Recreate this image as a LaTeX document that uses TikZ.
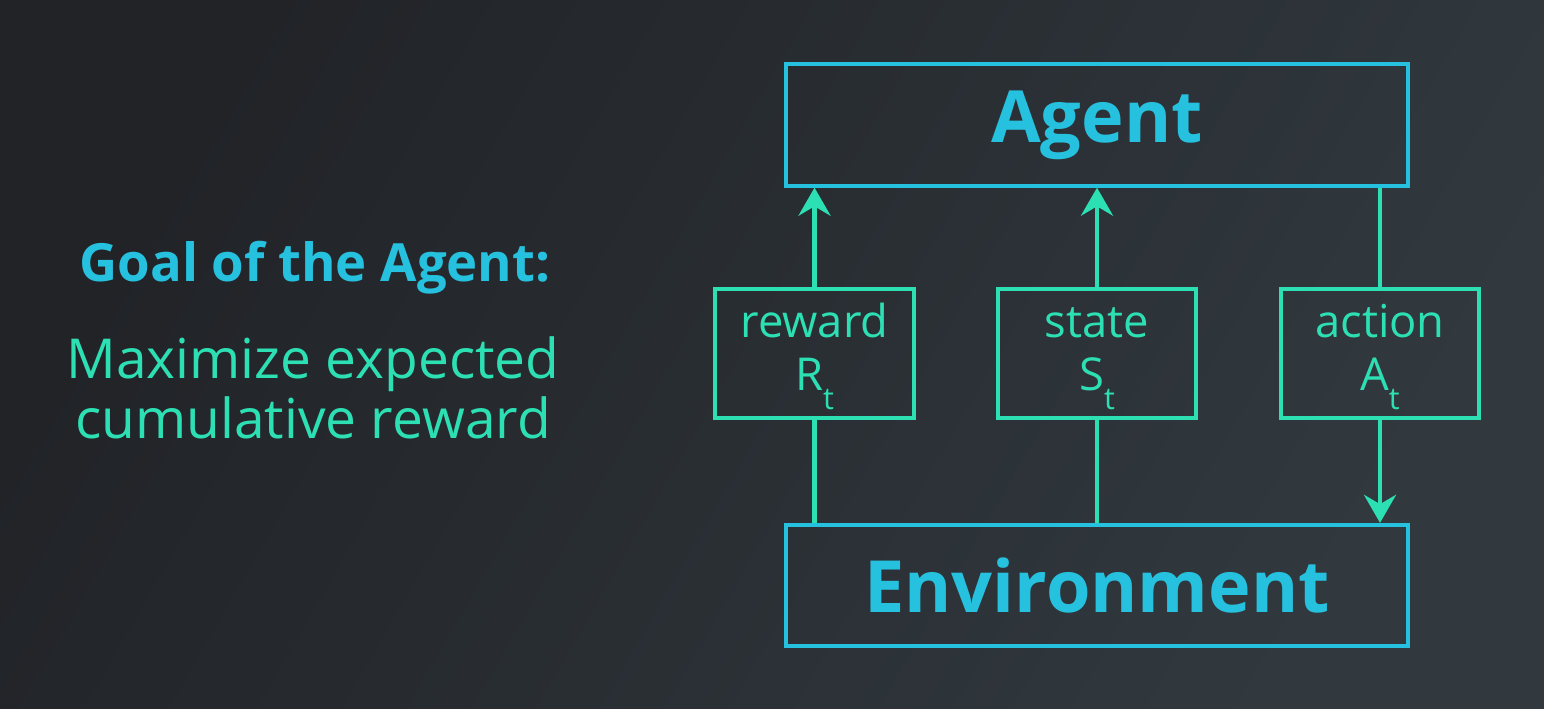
\documentclass[tikz,border=0pt]{standalone}
\usepackage{fontspec}
\setmainfont{Open Sans}
\usetikzlibrary{arrows.meta}
\definecolor{cyanc}{RGB}{38,193,222}
\definecolor{greenc}{RGB}{45,224,180}
\definecolor{bgA}{RGB}{33,35,39}
\definecolor{bgB}{RGB}{49,57,63}
\newcommand{\subt}[1]{\raisebox{-0.42em}{\fontsize{23}{23}\selectfont #1}}
\newcommand{\topstrut}{\rule{0pt}{30pt}}
\tikzset{
  bigbox/.style={draw=cyanc, line width=3pt, minimum width=466.5pt, minimum height=91pt, inner sep=0pt, text=cyanc, font=\fontsize{54}{60}\selectfont\bfseries},
  smallbox/.style={draw=greenc, line width=3pt, minimum width=149pt, minimum height=97pt, inner sep=0pt, text=greenc, align=center, font=\fontsize{34}{39.5}\selectfont},
  link/.style={draw=greenc, line width=3.2pt},
  tipped/.style={-{Stealth[length=21pt,width=24pt,inset=7pt]}},
  goaltext/.style={anchor=base, text=cyanc, font=\fontsize{39.5}{44}\selectfont\bfseries},
  bodytext/.style={anchor=base, text=greenc, font=\fontsize{41.3}{45}\selectfont}
}
\begin{document}
\begin{tikzpicture}[x=0.75pt,y=-0.75pt]
\useasboundingbox (0,0) rectangle (1544,708);
\fill[left color=bgA, right color=bgB, shading angle=60] (0,0) rectangle (1544,708);

\node[bigbox] (agent) at (1097,125) {Agent};
\node[bigbox] (env) at (1097,585.5) {Environment};
\node[smallbox] (reward) at (814.5,353.5) {\topstrut reward\\R\subt{t}};
\node[smallbox] (state) at (1097,353.5) {\topstrut state\\S\subt{t}};
\node[smallbox] (action) at (1380,353.5) {\topstrut action\\A\subt{t}};

\draw[link,tipped] (reward.north) -- (agent.south -| reward.north);
\draw[link,tipped] (state.north) -- (agent.south -| state.north);
\draw[link] (agent.south -| action.north) -- (action.north);
\draw[link,tipped] (action.south) -- (env.north -| action.south);
\draw[link] (reward.south) -- (env.north -| reward.south);
\draw[link] (state.south) -- (env.north -| state.south);

\node[goaltext] (goal) at (315,281) {Goal of the Agent:};
\node[bodytext] (max) at (313,378) {Maximize expected};
\node[bodytext] (cum) at (313,438) {cumulative reward};
\end{tikzpicture}
\end{document}
